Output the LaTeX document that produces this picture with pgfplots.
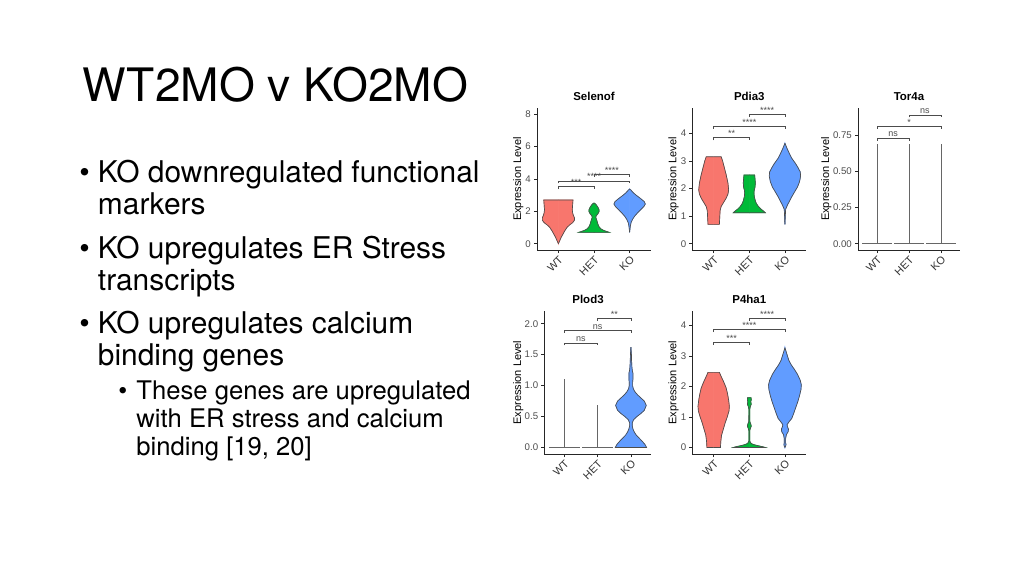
\documentclass[border=0pt]{standalone}
\usepackage{pgfplots}
\pgfplotsset{compat=1.18}
\usepackage{pgfplotstable}
\usepackage{fontspec}
\setmainfont{TeX Gyre Heros}
\newfontfamily\plotfont{Liberation Sans}
\definecolor{gred}{HTML}{F8766D}
\definecolor{ggreen}{HTML}{00BA38}
\definecolor{gblue}{HTML}{619CFF}
\definecolor{axgray}{HTML}{4D4D4D}

% violin profiles: y = expression level, w = half width (category units)
\pgfplotstableread{
y w
0.00 0.00
0.20 0.04
0.40 0.08
0.60 0.13
0.80 0.18
1.00 0.24
1.15 0.31
1.30 0.40
1.45 0.45
1.60 0.45
1.75 0.42
1.90 0.40
2.10 0.39
2.40 0.40
2.70 0.41
2.70 0.00
}\SelWT
\pgfplotstableread{
y w
0.70 0.00
0.70 0.43
0.75 0.36
0.82 0.27
0.92 0.19
1.05 0.14
1.20 0.11
1.35 0.09
1.50 0.07
1.62 0.05
1.72 0.06
1.85 0.11
1.97 0.14
2.10 0.14
2.25 0.11
2.38 0.07
2.50 0.02
2.50 0.00
}\SelHET
\pgfplotstableread{
y w
0.70 0.00
0.90 0.01
1.10 0.02
1.30 0.04
1.50 0.08
1.70 0.14
1.90 0.22
2.10 0.31
2.30 0.40
2.45 0.44
2.60 0.41
2.80 0.30
3.00 0.18
3.15 0.10
3.30 0.04
3.38 0.00
}\SelKO
\pgfplotstableread{
y w
0.70 0.00
0.70 0.16
0.95 0.17
1.20 0.18
1.35 0.21
1.50 0.28
1.65 0.35
1.80 0.40
1.95 0.42
2.20 0.40
2.50 0.35
2.80 0.29
3.00 0.25
3.15 0.21
3.15 0.00
}\PdWT
\pgfplotstableread{
y w
1.12 0.00
1.12 0.45
1.18 0.40
1.25 0.33
1.34 0.26
1.45 0.20
1.55 0.17
1.70 0.14
1.85 0.13
1.95 0.14
2.05 0.16
2.20 0.17
2.35 0.16
2.49 0.15
2.49 0.00
}\PdHET
\pgfplotstableread{
y w
0.70 0.00
1.00 0.01
1.25 0.02
1.40 0.07
1.55 0.13
1.70 0.19
1.90 0.28
2.05 0.35
2.25 0.41
2.45 0.44
2.60 0.43
2.75 0.37
2.90 0.30
3.10 0.19
3.28 0.12
3.45 0.06
3.64 0.00
}\PdKO
\pgfplotstableread{
y w
0.00 0.00
0.00 0.47
0.05 0.42
0.10 0.34
0.15 0.25
0.20 0.16
0.25 0.10
0.30 0.06
0.35 0.04
0.40 0.04
0.45 0.08
0.50 0.18
0.55 0.30
0.60 0.40
0.68 0.46
0.75 0.40
0.80 0.30
0.85 0.20
0.90 0.12
0.95 0.07
1.00 0.05
1.05 0.05
1.10 0.06
1.15 0.06
1.20 0.06
1.25 0.04
1.30 0.03
1.40 0.02
1.50 0.015
1.62 0.00
}\PlKO
\pgfplotstableread{
y w
0.00 0.00
0.00 0.19
0.20 0.20
0.40 0.22
0.60 0.27
0.80 0.32
1.00 0.38
1.20 0.43
1.35 0.44
1.55 0.42
1.75 0.39
1.95 0.35
2.15 0.28
2.35 0.20
2.46 0.16
2.46 0.00
}\PhWT
\pgfplotstableread{
y w
0.00 0.00
0.00 0.45
0.03 0.36
0.06 0.24
0.09 0.14
0.12 0.07
0.16 0.03
0.22 0.012
0.55 0.012
0.63 0.03
0.70 0.055
0.77 0.04
0.85 0.015
1.25 0.012
1.35 0.03
1.42 0.055
1.50 0.04
1.56 0.055
1.63 0.05
1.63 0.00
}\PhHET
\pgfplotstableread{
y w
0.00 0.00
0.05 0.02
0.10 0.03
0.15 0.02
0.30 0.02
0.42 0.04
0.52 0.09
0.60 0.10
0.68 0.07
0.75 0.06
0.85 0.12
0.95 0.19
1.10 0.24
1.30 0.30
1.50 0.36
1.70 0.41
1.90 0.45
2.05 0.46
2.20 0.43
2.40 0.35
2.55 0.27
2.70 0.18
2.85 0.11
3.00 0.07
3.15 0.03
3.27 0.00
}\PhKO

% #1 table, #2 centre, #3 colour
\newcommand\violin[3]{%
  \addplot[fill=#3, draw=#3, line width=0.25pt, forget plot] table[x expr=#2+\thisrow{w}, y=y]{#1} -- cycle;
  \addplot[fill=#3, draw=#3, line width=0.25pt, forget plot] table[x expr=#2-\thisrow{w}, y=y]{#1} -- cycle;
  \addplot[draw=black!70, line width=0.3pt, forget plot] table[x expr=#2+\thisrow{w}, y=y]{#1};
  \addplot[draw=black!70, line width=0.3pt, forget plot] table[x expr=#2-\thisrow{w}, y=y]{#1};
}
% flat violin: #1 centre, #2 left, #3 right, #4 top of tail
\newcommand\flatvln[4]{%
  \addplot[black!60, line width=0.3pt, forget plot] coordinates {(#2,0) (#3,0)};
  \addplot[black!60, line width=0.3pt, forget plot] coordinates {(#1,0) (#1,#4)};
}
% bracket: x1 x2 xmid ytop ybottom label
\newcommand\brk[6]{%
  \addplot[black!70, line width=0.3pt, forget plot] coordinates {(#1,#5) (#1,#4) (#2,#4) (#2,#5)};
  \node[anchor=base, inner sep=0pt, yshift=0.5pt, text=axgray,
        font=\plotfont\fontsize{4}{4.5}\selectfont] at (axis cs:#3,#4) {#6};
}

\pgfplotsset{
  vln/.style={
    scale only axis, anchor=south west, clip=false,
    xmin=0.4, xmax=3.6,
    axis x line*=bottom, axis y line*=left,
    axis line style={black!85, line width=0.35pt},
    xtick={1,2,3}, xticklabels={WT,HET,KO},
    tick align=outside, major tick length=0.047cm,
    every tick/.style={black!85, line width=0.35pt},
    xticklabel style={rotate=45, anchor=north east, inner sep=0.6pt,
      font=\plotfont\fontsize{4.8}{5.2}\selectfont, text=black!80},
    yticklabel style={font=\plotfont\fontsize{4.3}{5}\selectfont, text=axgray, inner sep=1.2pt},
    ylabel={Expression Level},
    every axis y label/.style={at={(axis description cs:#1,0.5)}, rotate=90, anchor=center,
      font=\plotfont\fontsize{4.9}{5.5}\selectfont},
    every axis title/.style={at={(axis description cs:0.5,1)}, anchor=base, yshift=0.115cm,
      font=\plotfont\bfseries\fontsize{5.1}{6}\selectfont},
  },
}

\begin{document}
\begin{tikzpicture}
\fill[white] (0,0) rectangle (16cm,-9cm);
\path[use as bounding box] (0,0) rectangle (16cm,-9cm);

\begin{scope}[x=0.015625cm, y=-0.015625cm]
\node[anchor=base west, inner sep=0pt, font=\fontsize{20.5}{24}\selectfont] at (82,101) {WT2MO v KO2MO};
\begin{scope}[every node/.style={anchor=base west, inner sep=0pt, font=\fontsize{13.3}{15}\selectfont}]
\node at (79,182) {\textbullet};
\node at (97.5,182) {KO downregulated functional};
\node at (97.5,214) {markers};
\node at (79,258) {\textbullet};
\node at (97.5,258) {KO upregulates ER Stress};
\node at (97.5,290) {transcripts};
\node at (79,333) {\textbullet};
\node at (97.5,333) {KO upregulates calcium};
\node at (97.5,365) {binding genes};
\end{scope}
\begin{scope}[every node/.style={anchor=base west, inner sep=0pt, font=\fontsize{11.4}{13}\selectfont}]
\node at (118,399) {\textbullet};
\node at (136,399) {These genes are upregulated};
\node at (136,427) {with ER stress and calcium};
\node at (136,455) {binding [19, 20]};
\end{scope}
\end{scope}

% Selenof
\begin{axis}[vln=-0.165, at={(8.3906cm,-3.9063cm)}, width=1.7813cm, height=2.2188cm,
  ymin=-0.39, ymax=8.38, ytick={0,2,4,6,8}, yticklabels={0,2,4,6,8}, title={Selenof}]
\violin{\SelWT}{1}{gred}
\violin{\SelHET}{2}{ggreen}
\violin{\SelKO}{3}{gblue}
\brk{1}{2}{1.5}{3.52}{3.37}{***}
\brk{1}{3}{2}{3.87}{3.72}{****}
\brk{2}{3}{2.5}{4.28}{4.13}{****}
\end{axis}

% Pdia3
\begin{axis}[vln=-0.165, at={(10.8172cm,-3.9063cm)}, width=1.7813cm, height=2.2188cm,
  ymin=-0.23, ymax=4.92, ytick={0,1,2,3,4}, yticklabels={0,1,2,3,4}, title={Pdia3}]
\violin{\PdWT}{1}{gred}
\violin{\PdHET}{2}{ggreen}
\violin{\PdKO}{3}{gblue}
\brk{1}{2}{1.5}{3.84}{3.75}{**}
\brk{1}{3}{2}{4.26}{4.17}{****}
\brk{2}{3}{2.5}{4.69}{4.60}{****}
\end{axis}

% Tor4a
\begin{axis}[vln=-0.31, at={(13.4063cm,-3.9063cm)}, width=1.5938cm, height=2.2188cm,
  ymin=-0.0434, ymax=0.938, ytick={0,0.25,0.5,0.75}, yticklabels={0.00,0.25,0.50,0.75}, title={Tor4a}]
\flatvln{1}{0.54}{1.46}{0.69}
\flatvln{2}{1.54}{2.46}{0.69}
\flatvln{3}{2.54}{3.46}{0.69}
\brk{1}{2}{1.5}{0.73}{0.713}{ns}
\brk{1}{3}{2}{0.81}{0.793}{*}
\brk{2}{3}{2.5}{0.89}{0.873}{ns}
\end{axis}

% Plod3
\begin{axis}[vln=-0.245, at={(8.5047cm,-7.0938cm)}, width=1.6656cm, height=2.2344cm,
  ymin=-0.105, ymax=2.205, ytick={0,0.5,1,1.5,2}, yticklabels={0.0,0.5,1.0,1.5,2.0}, title={Plod3},
  every axis title/.append style={at={(axis description cs:0.41,1)}}]
\flatvln{1}{0.54}{1.46}{1.1}
\flatvln{2}{1.54}{2.46}{0.69}
\violin{\PlKO}{3}{gblue}
\brk{1}{2}{1.5}{1.69}{1.65}{ns}
\brk{1}{3}{2}{1.89}{1.85}{ns}
\brk{2}{3}{2.5}{2.09}{2.05}{**}
\end{axis}

% P4ha1
\begin{axis}[vln=-0.165, at={(10.8172cm,-7.0938cm)}, width=1.7813cm, height=2.2344cm,
  ymin=-0.213, ymax=4.47, ytick={0,1,2,3,4}, yticklabels={0,1,2,3,4}, title={P4ha1}]
\violin{\PhWT}{1}{gred}
\violin{\PhHET}{2}{ggreen}
\violin{\PhKO}{3}{gblue}
\brk{1}{2}{1.5}{3.44}{3.36}{***}
\brk{1}{3}{2}{3.86}{3.78}{****}
\brk{2}{3}{2.5}{4.23}{4.15}{****}
\end{axis}
\end{tikzpicture}
\end{document}
